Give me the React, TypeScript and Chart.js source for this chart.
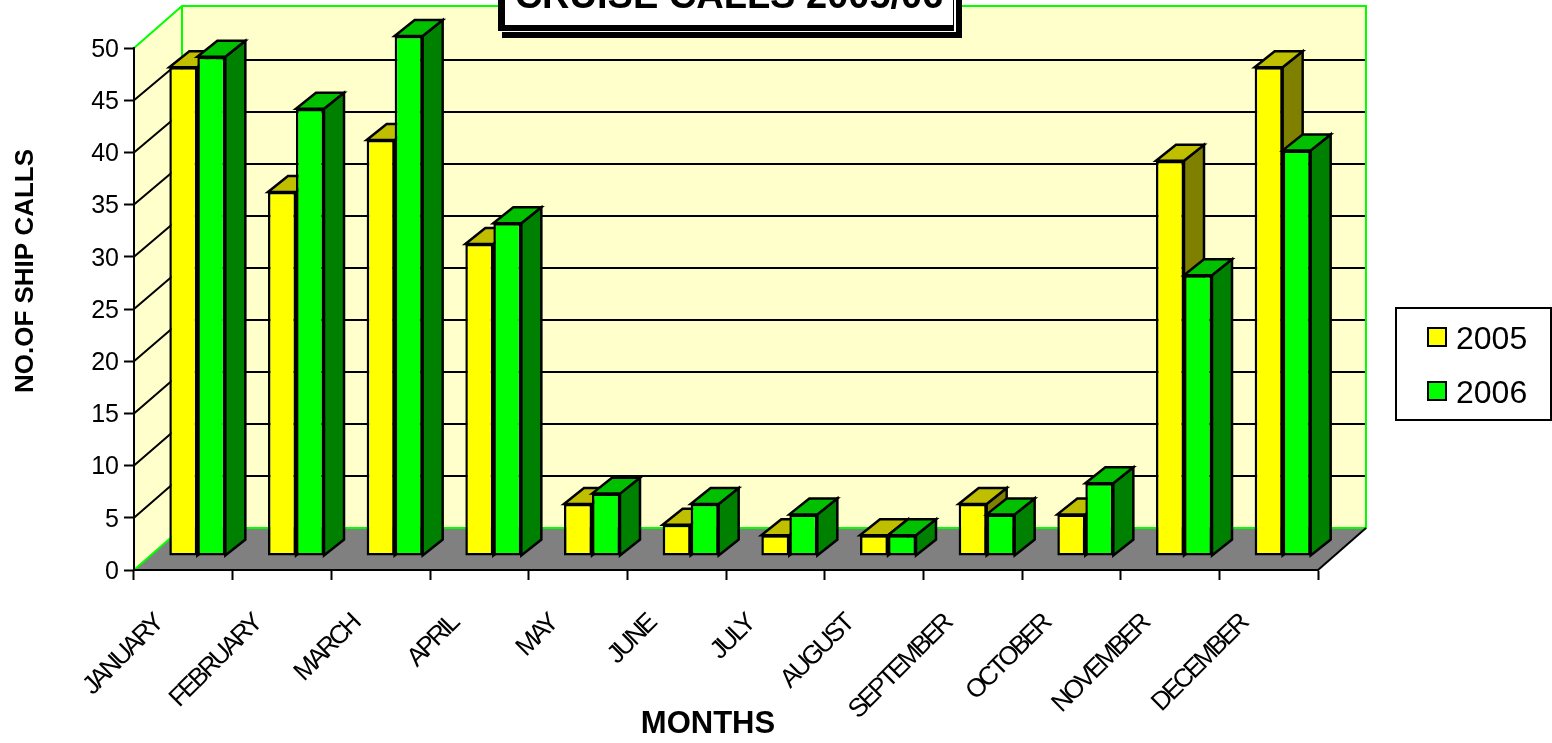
import React, { useEffect, useRef } from "react";
import { Chart, registerables } from "chart.js";

Chart.register(...registerables);

const months = ["JANUARY", "FEBRUARY", "MARCH", "APRIL", "MAY", "JUNE", "JULY", "AUGUST", "SEPTEMBER", "OCTOBER", "NOVEMBER", "DECEMBER"];
const calls2005 = [47, 35, 40, 30, 5, 3, 2, 2, 5, 4, 38, 47];
const calls2006 = [48, 43, 50, 32, 6, 5, 4, 2, 4, 7, 27, 39];
const chartTitle = "CRUISE CALLS 2005/06";
const xTitle = "MONTHS";
const yTitle = "NO.OF SHIP CALLS";

const FONT = '"Liberation Sans", Arial, sans-serif';
const WALL = { dx: 48, dy: 42 };
const BAR_SHIFT = { dx: 14, dy: 14 };
const BAR_DEPTH = { dx: 20, dy: 16 };
const DEPTH_SCALE = 0.9962; // the back planes are very slightly shorter than the front axis

const faces: Record<string, { top: string; side: string }> = {
  "2005": { top: "#BFBF00", side: "#808000" },
  "2006": { top: "#00C000", side: "#008000" },
};

function poly(ctx: CanvasRenderingContext2D, pts: number[][], fill?: string, stroke?: string, lw = 2) {
  ctx.beginPath();
  pts.forEach(([x, y], i) => (i ? ctx.lineTo(x, y) : ctx.moveTo(x, y)));
  if (fill) {
    ctx.closePath();
    ctx.fillStyle = fill;
    ctx.fill();
  }
  if (stroke) {
    ctx.strokeStyle = stroke;
    ctx.lineWidth = lw;
    ctx.stroke();
  }
}

const pseudo3d = {
  id: "pseudo3d",
  afterLayout(chart: any) {
    const x = chart.scales.x;
    if (x.__wrapped) return;
    x.__wrapped = true;
    const orig = x.drawLabels;
    x.drawLabels = function (area: any) {
      const ctx = chart.ctx as any;
      ctx.letterSpacing = "-3px";
      orig.call(this, area);
      ctx.letterSpacing = "0px";
    };
  },
  beforeDraw(chart: any) {
    const { ctx, chartArea: a, scales } = chart;
    const { dx, dy } = WALL;
    const wall = "#FFFFCC";
    const green = "#00FF00";
    ctx.save();
    poly(ctx, [[a.left + dx, a.top - dy], [a.right + dx, a.top - dy], [a.right + dx, a.bottom - dy], [a.left + dx, a.bottom - dy]], wall);
    poly(ctx, [[a.left, a.top], [a.left + dx, a.top - dy], [a.left + dx, a.bottom - dy], [a.left, a.bottom]], wall);
    poly(ctx, [[a.left, a.bottom], [a.left + dx, a.bottom - dy], [a.right + dx, a.bottom - dy], [a.right, a.bottom]], "#808080");
    scales.y.ticks.forEach((t: any) => {
      if (t.value === 0 || t.value === 50) return;
      const y = scales.y.getPixelForValue(t.value);
      const back = a.bottom - dy - (a.bottom - y) * DEPTH_SCALE;
      poly(ctx, [[a.left, y], [a.left + dx, back], [a.right + dx, back]], undefined, "#000000", 2);
    });
    poly(ctx, [[a.left, a.top], [a.left + dx, a.top - dy], [a.right + dx, a.top - dy], [a.right + dx, a.bottom - dy], [a.left + dx, a.bottom - dy], [a.left, a.bottom]], undefined, green, 2);
    poly(ctx, [[a.left + dx, a.top - dy], [a.left + dx, a.bottom - dy]], undefined, green, 2);
    poly(ctx, [[a.right, a.bottom], [a.right + dx, a.bottom - dy]], undefined, "#000000", 2);
    ctx.restore();
  },
  // Draw the 2005 bars first, then 2006, so each series' front covers the one before it.
  beforeDatasetsDraw(chart: any) {
    const { ctx, chartArea: a } = chart;
    chart.data.datasets.forEach((ds: any, i: number) => {
      const meta = chart.getDatasetMeta(i);
      const col = faces[ds.label];
      ctx.save();
      ctx.translate(BAR_SHIFT.dx, -BAR_SHIFT.dy);
      ctx.translate(0, a.bottom);
      ctx.scale(1, DEPTH_SCALE);
      ctx.translate(0, -a.bottom);
      meta.data.forEach((el: any) => {
        const { x, y, base, width } = el.getProps(["x", "y", "base", "width"], true);
        const l = x - width / 2;
        const r = x + width / 2;
        const { dx, dy } = BAR_DEPTH;
        poly(ctx, [[r, y], [r + dx, y - dy], [r + dx, base - dy], [r, base]], col.side, "#000000", 2.5);
        poly(ctx, [[l, y], [l + dx, y - dy], [r + dx, y - dy], [r, y]], col.top, "#000000", 2.5);
      });
      meta.controller.draw();
      ctx.restore();
    });
    return false;
  },
  afterDraw(chart: any) {
    const { ctx } = chart;
    ctx.save();
    // chart title box, cut by the top of the page
    ctx.fillStyle = "#000000";
    ctx.fillRect(502, -10, 460, 48);
    ctx.fillStyle = "#FFFFFF";
    ctx.fillRect(498, -10, 458, 42);
    ctx.fillStyle = "#000000";
    ctx.fillRect(498, -10, 456, 41);
    ctx.fillStyle = "#FFFFFF";
    ctx.fillRect(505, -10, 448, 35);
    ctx.fillStyle = "#000000";
    ctx.textAlign = "center";
    ctx.textBaseline = "alphabetic";
    ctx.font = `bold 38px ${FONT}`;
    ctx.fillText(chartTitle, 729, 8);
    // axis titles
    ctx.font = `bold 31px ${FONT}`;
    ctx.fillText(xTitle, 708, 733);
    ctx.font = `bold 26px ${FONT}`;
    ctx.save();
    ctx.translate(33, 271);
    ctx.rotate(-Math.PI / 2);
    ctx.fillText(yTitle, 0, 0);
    ctx.restore();
    // legend
    ctx.fillStyle = "#FFFFFF";
    ctx.fillRect(1396, 308, 156, 112);
    ctx.strokeStyle = "#000000";
    ctx.lineWidth = 2;
    ctx.strokeRect(1396, 308, 155, 112);
    ctx.textAlign = "left";
    ctx.font = `32px ${FONT}`;
    chart.data.datasets.forEach((ds: any, i: number) => {
      const top = 328 + i * 54;
      ctx.fillStyle = ds.backgroundColor;
      ctx.fillRect(1428, top, 18, 18);
      ctx.strokeRect(1428, top, 18, 18);
      ctx.fillStyle = "#000000";
      ctx.fillText(ds.label, 1456, top + 21);
    });
    ctx.restore();
  },
};

export default function App() {
  const ref = useRef<HTMLCanvasElement>(null);
  useEffect(() => {
    const chart = new Chart(ref.current as HTMLCanvasElement, {
      type: "bar",
      data: {
        labels: months,
        datasets: [
          { label: "2005", data: calls2005, backgroundColor: "#FFFF00" },
          { label: "2006", data: calls2006, backgroundColor: "#00FF00" },
        ].map((d) => ({
          ...d,
          borderColor: "#000000",
          borderWidth: 2.5,
          borderSkipped: false,
          categoryPercentage: 0.5676,
          barPercentage: 1,
          clip: false,
        })),
      },
      options: {
        responsive: false,
        animation: false,
        devicePixelRatio: 1,
        layout: { padding: { top: 48, right: 234, left: 0, bottom: 0 } },
        plugins: { legend: { display: false }, title: { display: false }, tooltip: { enabled: false } },
        scales: {
          x: {
            afterFit: (s: any) => {
              s.height = 173;
            },
            grid: { drawOnChartArea: false, drawTicks: true, tickLength: 10, tickColor: "#000000", tickWidth: 2, offset: true },
            border: { color: "#000000", width: 2 },
            ticks: {
              autoSkip: false,
              minRotation: 45,
              maxRotation: 45,
              padding: 29,
              labelOffset: -25,
              color: "#000000",
              font: { family: FONT, size: 26 },
            },
          },
          y: {
            min: 0,
            max: 50,
            afterFit: (s: any) => {
              s.width = 134;
            },
            grid: { drawOnChartArea: false, drawTicks: true, tickLength: 10, tickColor: "#000000", tickWidth: 2 },
            border: { color: "#000000", width: 2 },
            ticks: {
              stepSize: 5,
              padding: 5,
              labelOffset: 2,
              color: "#000000",
              font: { family: FONT, size: 25 },
            },
          },
        },
      } as any,
      plugins: [pseudo3d],
    });
    return () => chart.destroy();
  }, []);
  return (
    <div style={{ position: "absolute", left: 0, top: 0, width: 1552, height: 743, background: "#FFFFFF" }}>
      <canvas ref={ref} width={1552} height={743} style={{ display: "block" }} />
    </div>
  );
}
